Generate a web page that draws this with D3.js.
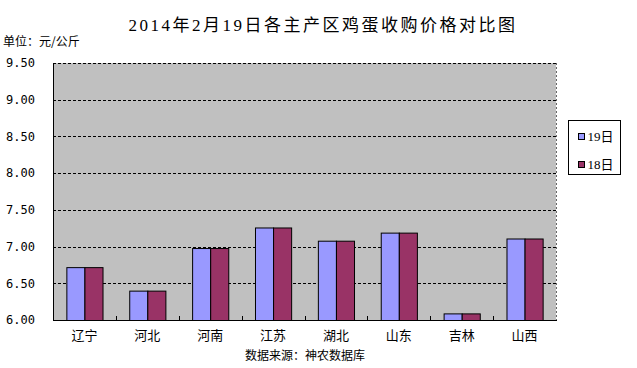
<!DOCTYPE html>
<html><head><meta charset="utf-8">
<script src="https://cdn.jsdelivr.net/npm/d3@7"></script>
<style>body{margin:0;background:#fff}svg{display:block}</style>
</head><body>
<script>
const categories = ["辽宁","河北","河南","江苏","湖北","山东","吉林","山西"];
const seriesNames = ["19日","18日"];
const values19 = [6.72,6.40,6.98,7.26,7.08,7.19,6.09,7.11];
const values18 = [6.72,6.40,6.98,7.26,7.08,7.19,6.09,7.11];
const yTicks = [6.00,6.50,7.00,7.50,8.00,8.50,9.00,9.50];
const colors = ["#9999ff","#993366"];

const W=637,H=368;
const m={left:53,right:81,top:63,bottom:48};
const svg=d3.select("body").append("svg").attr("width",W).attr("height",H);
const pw=W-m.left-m.right, ph=H-m.top-m.bottom;
const g=svg.append("g").attr("transform",`translate(${m.left},${m.top})`);

const x=d3.scaleBand().domain(categories).range([0,pw]).paddingInner(0).paddingOuter(0);
const y=d3.scaleLinear().domain([6,9.5]).range([ph,0]);
const groupW=x.bandwidth()*0.575;
const xs=d3.scaleBand().domain(seriesNames).range([(x.bandwidth()-groupW)/2,(x.bandwidth()+groupW)/2]);

g.append("rect").attr("width",pw).attr("height",ph).attr("fill","#c0c0c0");
// gridlines
g.selectAll(".grid").data(yTicks.slice(1)).join("line")
 .attr("x1",0).attr("x2",pw).attr("y1",d=>Math.round(y(d))+0.5).attr("y2",d=>Math.round(y(d))+0.5)
 .attr("stroke","#000").attr("stroke-dasharray","3,2").attr("stroke-width",1);
// right border dotted
g.append("line").attr("x1",pw+0.5).attr("x2",pw+0.5).attr("y1",0).attr("y2",ph)
 .attr("stroke","#666").attr("stroke-dasharray","2,2");

const data=categories.map((c,i)=>({c,vals:[values19[i],values18[i]]}));
const grp=g.selectAll(".cat").data(data).join("g").attr("transform",d=>`translate(${x(d.c)},0)`);
grp.selectAll("rect").data(d=>d.vals.map((v,j)=>({v,s:seriesNames[j],j}))).join("rect")
 .attr("x",d=>xs(d.s)+0.5).attr("width",xs.bandwidth())
 .attr("y",d=>y(d.v)+0.5).attr("height",d=>ph-y(d.v))
 .attr("fill",d=>colors[d.j]).attr("stroke","#000").attr("stroke-width",1);

// axes
const ya=d3.axisLeft(y).tickValues(yTicks).tickSize(0).tickPadding(18).tickFormat(d3.format(".2f"));
const yg=g.append("g").call(ya);
yg.select(".domain").remove();
yg.selectAll("text").attr("font-family","'DejaVu Sans Mono', monospace").attr("font-size",12).attr("fill","#000");
g.append("line").attr("x1",0.5).attr("x2",0.5).attr("y1",0).attr("y2",ph).attr("stroke","#000");
g.append("line").attr("x1",0).attr("x2",pw+1).attr("y1",ph+0.5).attr("y2",ph+0.5).attr("stroke","#000");
// category ticks (boundaries)
g.selectAll(".ctick").data(categories.slice(1)).join("line")
 .attr("x1",d=>Math.round(x(d))+0.5).attr("x2",d=>Math.round(x(d))+0.5)
 .attr("y1",ph).attr("y2",ph-4).attr("stroke","#000");
const xa=d3.axisBottom(x).tickSize(0).tickPadding(11);
const xg=g.append("g").attr("transform",`translate(0,${ph})`).call(xa);
xg.select(".domain").remove();
xg.selectAll("text").attr("font-family","'Noto Sans CJK SC'").attr("font-size",13).attr("fill","#000");

// title
svg.append("text").attr("x",323).attr("y",31).attr("text-anchor","middle")
 .attr("font-family","'Liberation Serif','Noto Sans CJK SC'").attr("font-size",17).attr("letter-spacing",2.5)
 .text("2014年2月19日各主产区鸡蛋收购价格对比图");
svg.append("text").attr("x",3).attr("y",46).attr("font-family","'Noto Sans CJK SC'").attr("font-size",12)
 .text("单位：元/公斤");
svg.append("text").attr("x",305).attr("y",360).attr("text-anchor","middle")
 .attr("font-family","'Noto Sans CJK SC'").attr("font-size",12).text("数据来源：神农数据库");

// legend
const lg=svg.append("g").attr("transform","translate(568.5,120.5)");
lg.append("rect").attr("width",52).attr("height",54).attr("fill","#fff").attr("stroke","#000");
seriesNames.forEach((s,i)=>{
  const row=lg.append("g").attr("transform",`translate(10,${13+i*28})`);
  row.append("rect").attr("width",6).attr("height",6).attr("fill",colors[i]).attr("stroke","#000");
  row.append("text").attr("x",9).attr("y",7).attr("font-family","'Liberation Serif','Noto Sans CJK SC'").attr("font-size",13).text(s);
});
</script>
</body></html>
